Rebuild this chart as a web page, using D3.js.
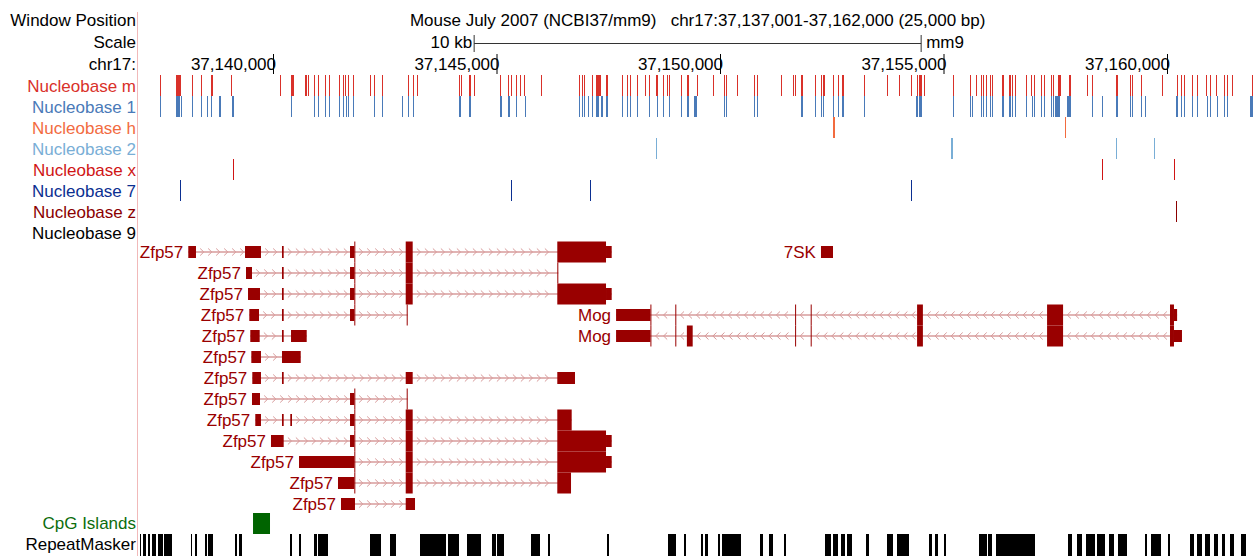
<!DOCTYPE html>
<html>
<head>
<meta charset="utf-8">
<script src="https://cdn.jsdelivr.net/npm/d3@7"></script>
<style>
body { margin: 0; background: #fff; }
svg { display: block; font-family: 'Liberation Sans', Arial, sans-serif; font-size: 17px; }
</style>
</head>
<body>
<svg id="canvas" width="1258" height="556"></svg>
<script>
// region shown + ruler
let regionStart = 37137000
let regionEnd = 37162000
let axisTicks = [37140000, 37145000, 37150000, 37155000, 37160000]
let scaleBarBp = 10000
let titleText = 'Mouse July 2007 (NCBI37/mm9)   chr17:37,137,001-37,162,000 (25,000 bp)'

// nucleobase tracks (single positions or [start, end] runs)
let nucleobaseNames = ['Nucleobase m', 'Nucleobase 1', 'Nucleobase h', 'Nucleobase 2', 'Nucleobase x', 'Nucleobase 7', 'Nucleobase z', 'Nucleobase 9']
let nbM = [37137479, [37137830, 37137935], 37138195, 37138396, [37138613, 37138651], 37139067, 37140163, 37140409, [37140447, 37140485], [37140723, 37140761], 37140790, 37140924, 37141013, 37141179, 37141259, 37141483, 37141573, 37141611, 37141685, 37141796, 37142177, 37142266, 37142445, 37143027, 37143139, 37143228, 37144168, 37144206, [37144385, 37144423], 37144503, [37145085, 37145107], [37145264, 37145295], 37145331, 37145443, 37145532, 37145622, 37146002, 37146852, 37146919, 37146964, 37147143, 37147232, [37147270, 37147360], [37147450, 37147494], 37147814, 37147926, 37147993, 37148150, 37148329, 37148418, [37148575, 37148613], 37148731, 37148821, 37148866, 37149134, [37149262, 37149306], 37149492, 37149850, 37150096, 37150141, 37150387, 37150767, 37150834, 37151371, 37151640, 37151684, [37151819, 37151863], 37152132, 37152266, [37152311, 37152349], 37152534, 37152646, [37152751, 37152796], 37153228, 37153742, 37154011, 37154279, 37154414, [37154474, 37154542], 37154570, 37155219, 37155599, 37155734, 37155845, 37155890, 37155957, 37156047, 37156091, [37156315, 37156353], [37156472, 37156516], 37156539, 37156606, 37156852, 37156964, 37157031, 37157188, 37157255, 37157411, 37157456, [37157568, 37157628], [37157814, 37157852], 37158217, 37158329, [37158865, 37158903], 37159179, 37159223, 37159425, 37159895, 37160230, 37160320, 37160387, 37160566, 37160678, 37160879, 37160968, 37161103, 37161282, 37161349, 37161461, 37161908]
let nb1 = [37137479, [37137830, 37137920], 37137949, 37138195, 37138396, 37138530, 37138635, [37138814, 37138852], [37139089, 37139128], 37140409, 37140924, 37141013, 37141179, 37141259, 37141483, 37141573, 37141640, 37141685, 37141796, 37142266, 37142445, 37142893, 37143027, 37143139, [37144168, 37144221], [37144385, 37144423], [37145085, 37145123], [37145264, 37145302], 37145443, 37145644, 37146852, 37146919, 37146964, 37147053, 37147143, [37147248, 37147309], 37147338, 37147382, [37147450, 37147494], 37147814, 37147926, 37147993, 37148150, 37148418, 37148597, 37148731, 37148866, 37149134, [37149262, 37149306], 37149425, [37149463, 37149501], 37150096, 37150141, 37150767, 37150834, [37151819, 37151863], 37152132, 37152266, 37152311, 37152534, 37152646, [37152751, 37152796], 37153228, [37154385, 37154430], [37154474, 37154542], 37155219, 37155599, 37155644, 37155845, 37155890, 37155957, 37156047, 37156091, [37156315, 37156353], [37156472, 37156516], 37156539, 37156606, 37156852, 37156986, 37157031, 37157188, 37157255, 37157411, 37157456, 37157501, [37157538, 37157628], [37157763, 37157852], 37158329, 37158552, [37158865, 37158903], 37159179, 37159223, 37159425, 37159514, [37160208, 37160253], 37160320, 37160387, 37160566, 37160678, 37160901, 37160968, 37161125, 37161282, 37161349, [37161863, 37161923]]
let nbH = [[37152534, 37152572], [37157740, 37157762]]
let nb2 = [37148577, [37155183, 37155228], 37158870, 37159720]
let nbX = [37139110, 37158552, 37160165]
let nb7 = [37137928, 37145333, 37147101, 37154282]
let nbZ = [37160215]
let nb9 = []
let nucleobaseColors = ['#d9312a', '#4a7ab8', '#f26b3f', '#79aed6', '#d01515', '#0b2f91', '#8b0000', '#000000']

// genes: exon lists and coding ranges
let zfp57Exons = [
  [[37138105, 37138277], [37139374, 37139731], [37140201, 37140239], [37141723, 37141834], [37142969, 37143125], [37146360, 37147577]],
  [[37139396, 37139530], [37140201, 37140239], [37141723, 37141834], [37142969, 37143125], [37146360, 37146383]],
  [[37139441, 37139709], [37140201, 37140239], [37141723, 37141834], [37142969, 37143125], [37146360, 37147577]],
  [[37139470, 37139687], [37140201, 37140239], [37141723, 37141834], [37142991, 37143013]],
  [[37139492, 37139702], [37140201, 37140239], [37140403, 37140754]],
  [[37139515, 37139731], [37140201, 37140620]],
  [[37139537, 37139731], [37140201, 37140239], [37142969, 37143125], [37146360, 37146756]],
  [[37139530, 37139709], [37141723, 37141834], [37142991, 37143013]],
  [[37139604, 37139731], [37140201, 37140239], [37140387, 37140425], [37141723, 37141834], [37142969, 37143125], [37146360, 37146682]],
  [[37139955, 37140239], [37141723, 37141834], [37142969, 37143125], [37146360, 37147577]],
  [[37140582, 37141834], [37142969, 37143125], [37146360, 37147577]],
  [[37141454, 37141834], [37142969, 37143125], [37146360, 37146667]],
  [[37141521, 37141834], [37142969, 37143177]]
]
let zfp57Cds = [
  [37141819, 37147450], [37141819, 37146383], [37141819, 37147450], [37141819, 37143013],
  null, null, null, [37141819, 37143013], [37141819, 37146682], [37141819, 37147450],
  [37141819, 37147450], [37141819, 37146667], null
]
let mogRows = [3, 4]
let mogExons = [
  [[37147675, 37148465], [37149000, 37149020], [37151680, 37151700], [37152029, 37152049], [37154409, 37154539], [37157317, 37157675], [37160067, 37160226]],
  [[37147675, 37148465], [37149000, 37149020], [37149259, 37149389], [37151680, 37151700], [37152029, 37152049], [37154409, 37154539], [37157317, 37157675], [37160067, 37160335]]
]
let mogCds = [[37148443, 37160156], [37148443, 37160156]]
let sk7Rows = [0]
let sk7Exons = [[[37152259, 37152528]]]

let cpgIslands = [[37139553, 37139933]]
let repeatMasker = [[37137020, 37137051], [37137092, 37137148], [37137204, 37137244], [37137300, 37137396], [37137427, 37137539], [37137570, 37137754],
  [37138163, 37138195], [37138257, 37138306], [37138481, 37138521], [37138555, 37138658], [37139152, 37139193], [37139239, 37139313],
  [37140376, 37140416], [37140575, 37140615], [37140910, 37140975], [37141016, 37141239], [37142172, 37142429], [37142620, 37142749],
  [37143291, 37143868], [37143915, 37144170], [37144331, 37144651], [37144890, 37144969], [37145009, 37145168], [37145769, 37145969],
  [37146152, 37146192], [37147463, 37147510], [37148845, 37149029], [37149203, 37149253], [37149573, 37149611], [37149666, 37149722],
  [37149946, 37149986], [37150051, 37150483], [37150890, 37150962], [37151089, 37151186], [37151425, 37151465], [37152360, 37152487],
  [37152528, 37152649], [37152704, 37152783], [37152839, 37152944], [37153264, 37153326], [37153727, 37153861], [37153951, 37154125],
  [37154141, 37154221], [37154678, 37154740], [37154805, 37154877], [37155020, 37155060], [37155796, 37155964], [37156004, 37156098],
  [37156179, 37157058], [37157776, 37157857], [37157977, 37158096], [37158177, 37158376], [37158440, 37158615], [37158695, 37158816],
  [37158894, 37159096], [37159510, 37159550], [37159639, 37159854], [37160031, 37160069], [37160517, 37160613], [37160678, 37160790],
  [37160852, 37160972], [37161053, 37161149], [37161228, 37161293], [37161412, 37161491], [37161653, 37161771]]

let canvas = d3.select('#canvas')
let geneColor = '#990000'

let x = d3.scaleLinear()
          .domain([regionStart, regionEnd])
          .range([138.9, 1256.4])

let nbY = d3.scaleBand()
            .domain(nucleobaseNames)
            .range([75, 75 + 21 * nucleobaseNames.length])

let geneY = d3.scaleBand()
              .domain(d3.range(13))
              .range([241.5, 241.5 + 21 * 13])

let lowerY = d3.scaleBand()
               .domain(['CpG Islands', 'RepeatMasker'])
               .range([513, 555])

let addLabel = (text, y, color) => {
  canvas.append('text')
        .attr('x', 136)
        .attr('y', y)
        .attr('dy', '0.35em')
        .attr('text-anchor', 'end')
        .attr('fill', color)
        .text(text)
}

// left border
canvas.append('line')
      .attr('x1', 137.5).attr('x2', 137.5)
      .attr('y1', 12).attr('y2', 556)
      .attr('stroke', '#f1b9b9')

// header
let mid = (regionStart + regionEnd) / 2
addLabel('Window Position', 20, '#000')
addLabel('Scale', 42, '#000')
addLabel('chr17:', 64, '#000')

canvas.append('text')
      .attr('x', x(mid))
      .attr('y', 20)
      .attr('dy', '0.35em')
      .attr('text-anchor', 'middle')
      .style('white-space', 'pre')
      .text(titleText)

let barLeft = x(mid - scaleBarBp / 2)
let barRight = x(mid + scaleBarBp / 2)
let bar = canvas.append('g').attr('stroke', '#333')
bar.append('line').attr('x1', barLeft).attr('x2', barRight).attr('y1', 43.5).attr('y2', 43.5)
bar.append('line').attr('x1', barLeft).attr('x2', barLeft).attr('y1', 35).attr('y2', 52)
bar.append('line').attr('x1', barRight).attr('x2', barRight).attr('y1', 35).attr('y2', 52)
canvas.append('text')
      .attr('x', barLeft - 2)
      .attr('y', 42)
      .attr('dy', '0.35em')
      .attr('text-anchor', 'end')
      .text(d3.format(',')(scaleBarBp / 1000) + ' kb')
canvas.append('text')
      .attr('x', barRight + 5)
      .attr('y', 42)
      .attr('dy', '0.35em')
      .text('mm9')

let axis = d3.axisBottom(x)
             .tickValues(axisTicks)
             .tickFormat(d3.format(','))
             .tickSize(20)
             .tickSizeOuter(0)
let axisG = canvas.append('g')
                  .attr('transform', 'translate(0,54)')
                  .call(axis)
axisG.attr('font-family', null).attr('font-size', null)
axisG.select('.domain').remove()
axisG.selectAll('.tick line').attr('stroke', '#000')
axisG.selectAll('.tick text')
     .attr('text-anchor', 'end')
     .attr('x', 2.5)
     .attr('y', 10)
     .attr('dy', '0.35em')
     .attr('fill', '#000')

// nucleobase tracks
let nbData = [nbM, nb1, nbH, nb2, nbX, nb7, nbZ, nb9]
nucleobaseNames.forEach((name, i) => {
  let color = nucleobaseColors[i]
  addLabel(name, nbY(name) + nbY.bandwidth() / 2 + 0.5, color)
  let items = nbData[i].map((d) => Array.isArray(d) ? d : [d, d + 1])
  canvas.append('g')
        .attr('shape-rendering', 'crispEdges')
        .selectAll('rect')
        .data(items)
        .enter()
        .append('rect')
        .attr('x', (d) => Math.floor(x(d[0])))
        .attr('width', (d) => Math.max(1, Math.round(x(d[1]) - x(d[0]))))
        .attr('y', nbY(name))
        .attr('height', nbY.bandwidth())
        .attr('fill', color)
})

// genes
let transcripts = []
zfp57Exons.forEach((exons, i) => {
  transcripts.push({name: 'Zfp57', row: i, strand: '+', exons: exons, cds: zfp57Cds[i]})
})
sk7Exons.forEach((exons, i) => {
  transcripts.push({name: '7SK', row: sk7Rows[i], strand: '+', exons: exons, cds: null})
})
mogExons.forEach((exons, i) => {
  transcripts.push({name: 'Mog', row: mogRows[i], strand: '-', exons: exons, cds: mogCds[i]})
})

let exonParts = (t) => {
  let out = []
  t.exons.forEach(([s, e]) => {
    if (!t.cds) {
      out.push({s: s, e: e, tall: false})
      return
    }
    let cs = t.cds[0]
    let ce = t.cds[1]
    if (s < cs) out.push({s: s, e: Math.min(e, cs), tall: false})
    if (e > cs && s < ce) out.push({s: Math.max(s, cs), e: Math.min(e, ce), tall: true})
    if (e > ce) out.push({s: Math.max(s, ce), e: e, tall: false})
  })
  return out
}

let geneG = canvas.append('g')
transcripts.forEach((t) => {
  let cy = geneY(t.row) + geneY.bandwidth() / 2
  let txStart = t.exons[0][0]
  let txEnd = t.exons[t.exons.length - 1][1]
  let g = geneG.append('g')

  g.append('line')
   .attr('x1', x(txStart)).attr('x2', x(txEnd))
   .attr('y1', cy).attr('y2', cy)
   .attr('stroke', '#c46a6a')
   .attr('stroke-width', 1.2)

  let chevrons = []
  for (let i = 0; i < t.exons.length - 1; i++) {
    let a = x(t.exons[i][1])
    let b = x(t.exons[i + 1][0])
    for (let cx = a + 6; cx < b - 3; cx += 8) chevrons.push(cx)
  }
  let dir = t.strand === '+' ? 1 : -1
  g.selectAll('path.chev')
   .data(chevrons)
   .enter()
   .append('path')
   .attr('class', 'chev')
   .attr('d', (cx) => 'M' + (cx - 1.8 * dir) + ',' + (cy - 3.5) + 'L' + (cx + 1.8 * dir) + ',' + cy + 'L' + (cx - 1.8 * dir) + ',' + (cy + 3.5))
   .attr('fill', 'none')
   .attr('stroke', '#d89a9a')
   .attr('stroke-width', 1)

  g.selectAll('rect')
   .data(exonParts(t))
   .enter()
   .append('rect')
   .attr('x', (d) => x(d.s))
   .attr('width', (d) => Math.max(1, x(d.e) - x(d.s)))
   .attr('y', (d) => d.tall ? cy - 10.5 : cy - 6)
   .attr('height', (d) => d.tall ? 21 : 12)
   .attr('fill', geneColor)

  g.append('text')
   .attr('x', x(txStart) - 5)
   .attr('y', cy + 0.5)
   .attr('dy', '0.35em')
   .attr('text-anchor', 'end')
   .attr('fill', geneColor)
   .text(t.name)
})

// CpG islands + RepeatMasker
addLabel('CpG Islands', lowerY('CpG Islands') + 10.5, '#0c6d0c')
canvas.append('g')
      .selectAll('rect')
      .data(cpgIslands)
      .enter()
      .append('rect')
      .attr('x', (d) => x(d[0]))
      .attr('width', (d) => x(d[1]) - x(d[0]))
      .attr('y', lowerY('CpG Islands'))
      .attr('height', lowerY.bandwidth())
      .attr('fill', '#006400')

addLabel('RepeatMasker', lowerY('RepeatMasker') + 10.5, '#000')
canvas.append('g')
      .attr('shape-rendering', 'crispEdges')
      .selectAll('rect')
      .data(repeatMasker)
      .enter()
      .append('rect')
      .attr('x', (d) => Math.round(x(d[0])))
      .attr('width', (d) => Math.max(1, Math.round(x(d[1]) - x(d[0]))))
      .attr('y', lowerY('RepeatMasker'))
      .attr('height', 22)
      .attr('fill', '#000')
</script>
</body>
</html>
